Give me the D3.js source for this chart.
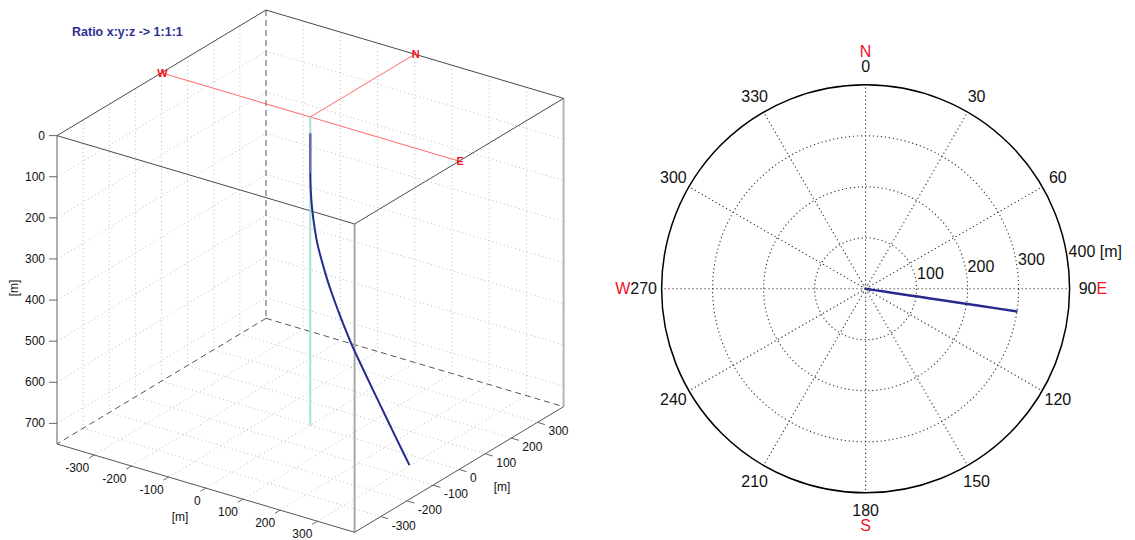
<!DOCTYPE html>
<html>
<head>
<meta charset="utf-8">
<script src="https://cdn.jsdelivr.net/npm/d3@7/dist/d3.min.js"></script>
<style>
  html, body { margin: 0; padding: 0; background: #fff; }
  svg { display: block; }
  text { font-family: "Liberation Sans", Arial, Helvetica, sans-serif; }
</style>
</head>
<body>
<svg id="chart" width="1135" height="540"></svg>
<script>
// ---------------- data ----------------
// well trajectory (true vertical depth [m], east offset [m], north offset [m])
const tvd   = [40, 136, 180, 224, 270, 300, 344, 380, 413, 450, 483, 517, 560, 600, 650, 700, 750];
const east  = [0, 0, 1.5, 5.9, 13.8, 20.8, 36.6, 51.4, 67.3, 87.0, 105.8, 126.6, 157.3, 186.4, 223.0, 260.1, 297.7];
const north = [0, 0, -0.2, -0.9, -2.1, -3.1, -5.5, -7.7, -10.1, -13.0, -15.8, -18.9, -23.5, -27.9, -33.3, -38.9, -44.5];
// vertical reference line
const refDepth = [0, 750];

const xTicks = [-300, -200, -100, 0, 100, 200, 300];
const yTicks = [-300, -200, -100, 0, 100, 200, 300];
const zTicks = [0, 100, 200, 300, 400, 500, 600, 700];
const hLimits = [-400, 400];
const zLimits = [0, 750];

const ringTicks = [100, 200, 300, 400];
const angleTicks = [0, 30, 60, 90, 120, 150, 180, 210, 240, 270, 300, 330];
const compass = {0: "N", 90: "E", 180: "S", 270: "W"};
const titleText = "Ratio x:y:z -> 1:1:1";

// ---------------- setup ----------------
const svg = d3.select("#chart");

// ---------- 3D projection ----------
const O = [310.3, 117];
const ax = [148.8, 44.16];   // screen vector for x from 0 to +1 (unit)
const ay = [104.5, -62.8];
const xs = d3.scaleLinear().domain(hLimits).range([-1, 1]);
const ys = d3.scaleLinear().domain(hLimits).range([-1, 1]);
const zs = d3.scaleLinear().domain(zLimits).range([0, 308.3]);
function P(x, y, z) {
  const u = xs(x), v = ys(y);
  return [O[0] + u * ax[0] + v * ay[0], O[1] + u * ax[1] + v * ay[1] + zs(z)];
}
const line3 = d3.line().x(d => P(d[0], d[1], d[2])[0]).y(d => P(d[0], d[1], d[2])[1]);

const g3 = svg.append("g");
const X0 = hLimits[0], X1 = hLimits[1], Z0 = zLimits[0], Z1 = zLimits[1];

function seg(a, b, stroke, width, dash) {
  g3.append("path").attr("d", line3([a, b]))
    .attr("fill", "none").attr("stroke", stroke).attr("stroke-width", width)
    .attr("stroke-dasharray", dash || null);
}
const gridC = "#bdbdbd", gridD = "1,3";
// grid on wall x = X0
zTicks.forEach(z => { if (z > 0) seg([X0, X0, z], [X0, X1, z], gridC, 1, gridD); });
yTicks.forEach(y => seg([X0, y, Z0], [X0, y, Z1], gridC, 1, gridD));
// grid on wall y = X1
zTicks.forEach(z => { if (z > 0) seg([X0, X1, z], [X1, X1, z], gridC, 1, gridD); });
xTicks.forEach(x => seg([x, X1, Z0], [x, X1, Z1], gridC, 1, gridD));
// floor grid z = Z1
xTicks.forEach(x => seg([x, X0, Z1], [x, X1, Z1], gridC, 1, gridD));
yTicks.forEach(y => seg([X0, y, Z1], [X1, y, Z1], gridC, 1, gridD));

// hidden (back) edges dashed
const dashC = "#555", dashD = "6,4";
seg([X0, X1, Z0], [X0, X1, Z1], dashC, 1, dashD);
seg([X0, X1, Z1], [X0, X0, Z1], dashC, 1, dashD);
seg([X0, X1, Z1], [X1, X1, Z1], dashC, 1, dashD);

// verticals
seg([X0, X0, Z0], [X0, X0, Z1], "#7a7a7a", 1.2);
seg([X1, X0, Z0], [X1, X0, Z1], "#a8a8a8", 2);
seg([X1, X1, Z0], [X1, X1, Z1], "#b5b5b5", 2);

// top face
const topC = "#4a4a4a";
seg([X0, X0, Z0], [X0, X1, Z0], topC, 1);
seg([X0, X1, Z0], [X1, X1, Z0], topC, 1);
seg([X0, X0, Z0], [X1, X0, Z0], topC, 1);
seg([X1, X0, Z0], [X1, X1, Z0], topC, 1);
// bottom front axes
seg([X0, X0, Z1], [X1, X0, Z1], "#555", 1);
seg([X1, X0, Z1], [X1, X1, Z1], "#555", 1);

// red compass cross at surface
const redL = "#ff6a6a";
seg([X0, 0, 0], [X1, 0, 0], redL, 1);
seg([0, 0, 0], [0, X1, 0], redL, 1);
[["W", [X0, 0, 0]], ["E", [X1, 0, 0]], ["N", [0, X1, 0]]].forEach(([t, p]) => {
  const s = P(p[0], p[1], p[2]);
  g3.append("text").attr("x", s[0] + 1).attr("y", s[1]).attr("text-anchor", "middle")
    .attr("dominant-baseline", "central").attr("font-size", 11).attr("font-weight", "bold")
    .attr("fill", "#f0141e").text(t);
});

// vertical reference line (green)
g3.append("path").attr("d", line3(refDepth.map(z => [0, 0, z])))
  .attr("fill", "none").attr("stroke", "#a6e3cb").attr("stroke-width", 2);

// trajectory
const traj = tvd.map((z, i) => [east[i], north[i], z]);
g3.append("path").attr("d", line3.curve(d3.curveCatmullRom)(traj))
  .attr("fill", "none").attr("stroke", "#262a8c").attr("stroke-width", 2)
  .attr("stroke-linejoin", "round");
line3.curve(d3.curveLinear);
const vertPart = traj.filter(d => d[0] === 0 && d[1] === 0);
g3.append("path").attr("d", line3(vertPart))
  .attr("fill", "none").attr("stroke", "#6b70b8").attr("stroke-width", 2);

// z axis ticks and labels
zTicks.forEach(z => {
  const s = P(X0, X0, z);
  g3.append("line").attr("x1", s[0] - 8).attr("x2", s[0]).attr("y1", s[1]).attr("y2", s[1])
    .attr("stroke", "#666").attr("stroke-width", 1);
  g3.append("text").attr("x", s[0] - 12).attr("y", s[1]).attr("text-anchor", "end")
    .attr("dominant-baseline", "central").attr("font-size", 12).attr("fill", "#111").text(z);
});
g3.append("text").attr("transform", "translate(18,288) rotate(-90)").attr("text-anchor", "middle")
  .attr("font-size", 12).attr("fill", "#111").text("[m]");

// x axis ticks (along front-left bottom edge)
xTicks.forEach(x => {
  const s = P(x, X0, Z1), t = P(x, X0 - 20, Z1);
  g3.append("line").attr("x1", s[0]).attr("y1", s[1]).attr("x2", t[0]).attr("y2", t[1])
    .attr("stroke", "#666");
  g3.append("text").attr("x", s[0] - 5).attr("y", s[1] + 17).attr("text-anchor", "end")
    .attr("font-size", 12).attr("fill", "#111").text(x);
});
g3.append("text").attr("x", 180).attr("y", 521).attr("text-anchor", "middle")
  .attr("font-size", 12).attr("fill", "#111").text("[m]");

// y axis ticks (along front-right bottom edge)
yTicks.forEach(y => {
  const s = P(X1, y, Z1), t = P(X1 + 20, y, Z1);
  g3.append("line").attr("x1", s[0]).attr("y1", s[1]).attr("x2", t[0]).attr("y2", t[1])
    .attr("stroke", "#666");
  g3.append("text").attr("x", s[0] + 11).attr("y", s[1] + 13).attr("text-anchor", "start")
    .attr("font-size", 12).attr("fill", "#111").text(y);
});
g3.append("text").attr("x", 502).attr("y", 491).attr("text-anchor", "middle")
  .attr("font-size", 12).attr("fill", "#111").text("[m]");

// title
svg.append("text").attr("x", 72).attr("y", 36).attr("font-size", 12.5).attr("font-weight", "bold")
  .attr("fill", "#2e3192").text(titleText);

// ---------- polar plot ----------
const C = [865.6, 288.8];
const R = 204;
const r = d3.scaleLinear().domain([0, 400]).range([0, R]);
const gp = svg.append("g").attr("transform", `translate(${C[0]},${C[1]})`);
const dotC = "#333", dotD = "1.2,2.8";
const rad = a => a * Math.PI / 180;

// spokes
angleTicks.forEach(a => {
  gp.append("line").attr("x1", 0).attr("y1", 0)
    .attr("x2", r(400) * Math.sin(rad(a))).attr("y2", -r(400) * Math.cos(rad(a)))
    .attr("stroke", dotC).attr("stroke-width", 1.1).attr("stroke-dasharray", dotD);
});
// rings
ringTicks.forEach(t => {
  gp.append("circle").attr("r", r(t)).attr("fill", "none")
    .attr("stroke", t === 400 ? "#000" : dotC)
    .attr("stroke-width", t === 400 ? 1.5 : 1.1)
    .attr("stroke-dasharray", t === 400 ? null : dotD);
});
gp.append("circle").attr("r", 3.5).attr("fill", "none").attr("stroke", "#666")
  .attr("stroke-width", 1).attr("stroke-dasharray", "1,1.5");

// ring labels
ringTicks.forEach(t => {
  const a = rad(82);
  gp.append("text").attr("x", r(t) * Math.sin(a) + 1).attr("y", -r(t) * Math.cos(a) - 8.5)
    .attr("dominant-baseline", "central").attr("font-size", 16).attr("fill", "#111")
    .text(t === 400 ? "400 [m]" : t);
});

// angle labels
const LR = 222;
angleTicks.forEach(a => {
  const x = LR * Math.sin(rad(a)), y = -LR * Math.cos(rad(a));
  const tx = gp.append("text").attr("x", x).attr("y", y).attr("text-anchor", "middle")
    .attr("dominant-baseline", "central").attr("font-size", 16).attr("fill", "#111").text(a);
  if (compass[a] !== undefined) {
    const w = tx.node().getComputedTextLength();
    const lab = gp.append("text").attr("dominant-baseline", "central").attr("font-size", 16)
      .attr("fill", "#f0141e").text(compass[a]);
    if (a === 0) lab.attr("x", x).attr("y", y - 15.5).attr("text-anchor", "middle");
    if (a === 180) lab.attr("x", x).attr("y", y + 15).attr("text-anchor", "middle");
    if (a === 90) lab.attr("x", x + w / 2).attr("y", y).attr("text-anchor", "start");
    if (a === 270) lab.attr("x", x - w / 2).attr("y", y).attr("text-anchor", "end");
  }
});

// trajectory plan view
const radial = d3.lineRadial()
  .angle((d, i) => Math.atan2(east[i], north[i]))
  .radius((d, i) => r(Math.hypot(east[i], north[i])));
gp.append("path").attr("d", radial(tvd))
  .attr("fill", "none").attr("stroke", "#262a8c").attr("stroke-width", 2.5)
  .attr("stroke-linejoin", "round");
</script>
</body>
</html>
